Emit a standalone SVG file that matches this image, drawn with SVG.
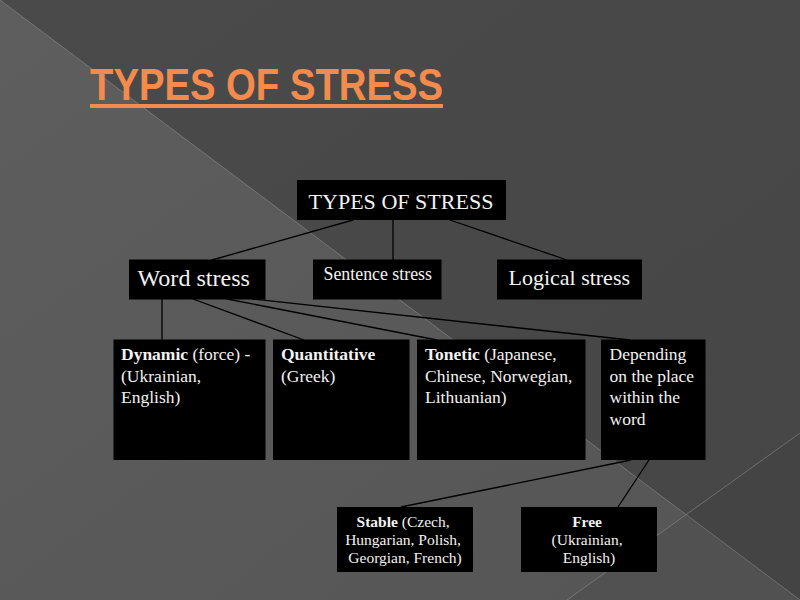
<svg xmlns="http://www.w3.org/2000/svg" width="800" height="600" viewBox="0 0 800 600">
  <style>
    .box { fill: #000000; }
    .t { font-family: "Liberation Serif", "Times New Roman", serif; fill: #f2f2f2; }
    .b { font-weight: bold; }
    .conn line { stroke: #000000; stroke-width: 1.3; }
    .bgline { stroke: #8a8a8a; stroke-width: 1; stroke-opacity: 0.6; }
  </style>
  <defs>
    <linearGradient id="bgTop" x1="0" y1="0" x2="1" y2="1">
      <stop offset="0" stop-color="#4a4a4a"/>
      <stop offset="1" stop-color="#464646"/>
    </linearGradient>
    <linearGradient id="bgLeft" x1="0" y1="0" x2="1" y2="1">
      <stop offset="0" stop-color="#5e5e5e"/>
      <stop offset="1" stop-color="#555555"/>
    </linearGradient>
  </defs>

  <!-- background -->
  <rect x="0" y="0" width="800" height="600" fill="url(#bgTop)"/>
  <polygon points="0,0 800,600 0,600" fill="url(#bgLeft)"/>
  <polygon points="686,515 800,600 567,600" fill="#515151"/>
  <polygon points="800,433 686,515 800,600" fill="#444444"/>
  <line class="bgline" x1="0" y1="0" x2="800" y2="600"/>
  <line class="bgline" x1="800" y1="433" x2="567" y2="600"/>

  <!-- title -->
  <g id="title">
    <text x="90" y="100" font-family="'Liberation Sans', Arial, sans-serif" font-weight="bold" font-size="44" fill="#f48a4c" textLength="353" lengthAdjust="spacingAndGlyphs">TYPES OF STRESS</text>
    <rect x="90" y="104" width="353" height="4" fill="#f48a4c"/>
  </g>

  <!-- connectors -->
  <g id="connectors" class="conn">
    <line x1="353" y1="220" x2="212" y2="260"/>
    <line x1="393" y1="220" x2="393" y2="260"/>
    <line x1="450" y1="220" x2="567" y2="260"/>
    <line x1="162" y1="299" x2="162" y2="340"/>
    <line x1="193" y1="299" x2="304" y2="340"/>
    <line x1="227" y1="299" x2="437" y2="340"/>
    <line x1="252" y1="299" x2="630" y2="340"/>
    <line x1="631" y1="460" x2="401" y2="507"/>
    <line x1="649" y1="460" x2="618" y2="507"/>
  </g>

  <g id="root">
    <rect class="box" x="297" y="180" width="209" height="40"/>
    <text class="t" x="308.5" y="208.5" font-size="22" textLength="185" lengthAdjust="spacingAndGlyphs">TYPES OF STRESS</text>
  </g>

  <g id="word-stress">
    <rect class="box" x="129" y="259.5" width="136.5" height="40"/>
    <text class="t" x="137.5" y="286" font-size="24" textLength="112.5" lengthAdjust="spacingAndGlyphs">Word stress</text>
  </g>

  <g id="sentence-stress">
    <rect class="box" x="313" y="259.5" width="128.5" height="40"/>
    <text class="t" x="323.5" y="279.5" font-size="18" textLength="108.5" lengthAdjust="spacingAndGlyphs">Sentence stress</text>
  </g>

  <g id="logical-stress">
    <rect class="box" x="497" y="259.5" width="145" height="40"/>
    <text class="t" x="508.5" y="285" font-size="22" textLength="121.5" lengthAdjust="spacingAndGlyphs">Logical stress</text>
  </g>

  <g id="dynamic">
    <rect class="box" x="113.5" y="339.5" width="152" height="120.5"/>
    <text class="t" font-size="17.5">
      <tspan x="121" y="360"><tspan class="b">Dynamic</tspan> (force) -</tspan>
      <tspan x="121" y="381.5">(Ukrainian,</tspan>
      <tspan x="121" y="403">English)</tspan>
    </text>
  </g>

  <g id="quantitative">
    <rect class="box" x="273" y="339.5" width="136.5" height="120.5"/>
    <text class="t" font-size="17.5">
      <tspan class="b" x="281" y="360">Quantitative</tspan>
      <tspan x="281" y="381.5">(Greek)</tspan>
    </text>
  </g>

  <g id="tonetic">
    <rect class="box" x="417" y="339.5" width="168.5" height="120.5"/>
    <text class="t" font-size="17.5">
      <tspan x="425" y="360"><tspan class="b">Tonetic</tspan> (Japanese,</tspan>
      <tspan x="425" y="381.5">Chinese, Norwegian,</tspan>
      <tspan x="425" y="403">Lithuanian)</tspan>
    </text>
  </g>

  <g id="depending">
    <rect class="box" x="601" y="339.5" width="104.5" height="120.5"/>
    <text class="t" font-size="17.5">
      <tspan x="609.5" y="360">Depending</tspan>
      <tspan x="609.5" y="381.5">on the place</tspan>
      <tspan x="609.5" y="403">within the</tspan>
      <tspan x="609.5" y="424.5">word</tspan>
    </text>
  </g>

  <g id="stable">
    <rect class="box" x="337" y="507" width="136" height="65"/>
    <text class="t" font-size="15.5" text-anchor="middle">
      <tspan x="405" y="526.5"><tspan class="b">Stable</tspan> (Czech,</tspan>
      <tspan x="405" y="544.5">Hungarian, Polish,</tspan>
      <tspan x="405" y="563">Georgian, French)</tspan>
    </text>
  </g>

  <g id="free">
    <rect class="box" x="521" y="507" width="136" height="65"/>
    <text class="t" font-size="15.5" text-anchor="middle">
      <tspan class="b" x="589" y="526.5">Free</tspan>
      <tspan x="589" y="544.5">(Ukrainian,</tspan>
      <tspan x="589" y="563">English)</tspan>
    </text>
  </g>
</svg>
